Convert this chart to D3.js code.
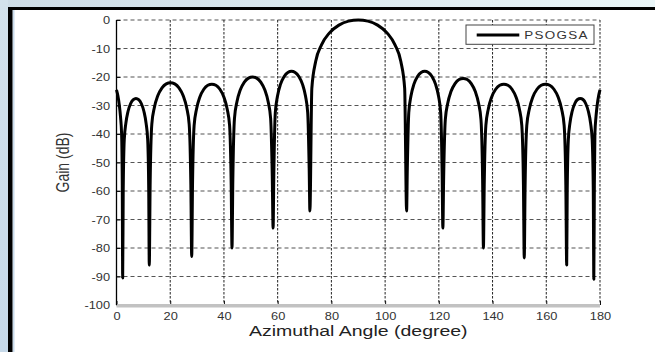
<!DOCTYPE html>
<html>
<head>
<meta charset="utf-8">
<script src="https://cdn.jsdelivr.net/npm/d3@7"></script>
<style>
html, body { margin: 0; padding: 0; background: #fff; }
svg { display: block; font-family: Arial, "Liberation Sans", sans-serif; }
</style>
</head>
<body>
<svg id="chart" width="655" height="352"></svg>
<script>
// Axis ticks
const xTicks = [0, 20, 40, 60, 80, 100, 120, 140, 160, 180];
const yTicks = [0, -10, -20, -30, -40, -50, -60, -70, -80, -90, -100];
const xTitle = "Azimuthal Angle (degree)";
const yTitle = "Gain (dB)";
const seriesName = "PSOGSA";

// Beam pattern (degree, dB)
const angles = [
    0, 0.5, 1.0, 1.5, 1.9, 2.15, 2.3,
    2.5, 2.89, 3.49, 4.28, 5.27, 6.26, 7.25, 8.24, 9.23, 10.22, 11.01, 11.61, 12.0, 12.2,
    12.52, 13.15, 14.1, 15.36, 16.94, 18.52, 20.1, 21.68, 23.26, 24.84, 26.1, 27.05, 27.68, 28.0,
    28.3, 28.9, 29.8, 31.0, 32.5, 34.0, 35.5, 37.0, 38.5, 40.0, 41.2, 42.1, 42.7, 43.0,
    43.31, 43.92, 44.84, 46.06, 47.59, 49.12, 50.65, 52.18, 53.71, 55.24, 56.46, 57.38, 57.99, 58.3,
    58.57, 59.12, 59.94, 61.04, 62.41, 63.78, 65.15, 66.52, 67.89, 69.26, 70.36, 71.18, 71.73, 72.0,
    72.72, 74.16, 76.32, 79.2, 82.8, 86.4, 90.0, 93.6, 97.2, 100.8, 103.68, 105.84, 107.28, 108.0,
    108.27, 108.81, 109.62, 110.7, 112.05, 113.4, 114.75, 116.1, 117.45, 118.8, 119.88, 120.69, 121.23, 121.5,
    121.8, 122.41, 123.31, 124.52, 126.03, 127.54, 129.05, 130.56, 132.07, 133.58, 134.79, 135.69, 136.3, 136.6,
    136.9, 137.51, 138.42, 139.64, 141.16, 142.68, 144.2, 145.72, 147.24, 148.76, 149.98, 150.89, 151.5, 151.8,
    152.12, 152.75, 153.7, 154.96, 156.54, 158.12, 159.7, 161.28, 162.86, 164.44, 165.7, 166.65, 167.28, 167.6,
    167.8, 168.21, 168.81, 169.62, 170.63, 171.64, 172.65, 173.66, 174.67, 175.68, 176.49, 177.09, 177.5, 177.7,
    177.9, 178.1, 178.5, 179.0, 179.5, 180
];
const gains = [
    -24.5, -26.5, -29.5, -34, -40, -58, -90.5,
    -60, -42, -36.2, -32.1, -29.3, -27.9, -27.5, -27.9, -29.3, -32.1, -36.2, -42, -60, -86,
    -58, -36.5, -30.7, -26.6, -23.8, -22.4, -22, -22.4, -23.8, -26.6, -30.7, -36.5, -58, -83,
    -58, -37, -31.2, -27.1, -24.3, -22.9, -22.5, -22.9, -24.3, -27.1, -31.2, -37, -58, -80,
    -56, -34.5, -28.7, -24.6, -21.8, -20.4, -20, -20.4, -21.8, -24.6, -28.7, -34.5, -55, -73,
    -54, -32.5, -26.7, -22.6, -19.8, -18.4, -18, -18.4, -19.8, -22.6, -26.7, -32.5, -52, -67,
    -24, -14.5, -8.7, -4.6, -1.8, -0.4, 0, -0.4, -1.8, -4.6, -8.7, -14.5, -24, -67,
    -52, -32.5, -26.7, -22.6, -19.8, -18.4, -18, -18.4, -19.8, -22.6, -26.7, -32.5, -54, -73,
    -55, -35, -29.2, -25.1, -22.3, -20.9, -20.5, -20.9, -22.3, -25.1, -29.2, -35, -56, -80,
    -58, -37, -31.2, -27.1, -24.3, -22.9, -22.5, -22.9, -24.3, -27.1, -31.2, -37, -58, -83.5,
    -58, -37, -31.2, -27.1, -24.3, -22.9, -22.5, -22.9, -24.3, -27.1, -31.2, -37, -58, -86,
    -60, -42, -36.2, -32.1, -29.3, -27.9, -27.5, -27.9, -29.3, -32.1, -36.2, -42, -60, -91,
    -58, -40, -34, -29.5, -26.5, -24.5
];

// Layout
const PLOT = { left: 116.5, right: 600, top: 20, bottom: 305 };
const SX = 1.28; // the figure is stretched sideways

const svg = d3.select("#chart");

// Page background: blue slide edge and black frame
const defs = svg.append("defs");
const gTop = defs.append("linearGradient").attr("id", "topGrad");
gTop.append("stop").attr("offset", "0%").attr("stop-color", "#cddce6");
gTop.append("stop").attr("offset", "100%").attr("stop-color", "#eaf6f8");
const gLeft = defs.append("linearGradient").attr("id", "leftGrad")
    .attr("x1", 0).attr("y1", 0).attr("x2", 0).attr("y2", 1);
gLeft.append("stop").attr("offset", "0%").attr("stop-color", "#d3e2ec");
gLeft.append("stop").attr("offset", "100%").attr("stop-color", "#c6d9e9");

svg.append("rect").attr("x", 0).attr("y", 0).attr("width", 655).attr("height", 7).attr("fill", "url(#topGrad)");
svg.append("rect").attr("x", 0).attr("y", 0).attr("width", 8).attr("height", 352).attr("fill", "url(#leftGrad)");
svg.append("rect").attr("x", 12.5).attr("y", 10).attr("width", 2).attr("height", 342).attr("fill", "#cadcec");
svg.append("rect").attr("x", 8).attr("y", 7).attr("width", 647).attr("height", 3).attr("fill", "#000");
svg.append("rect").attr("x", 8).attr("y", 7).attr("width", 4.5).attr("height", 345).attr("fill", "#000");

// Scales
const x = d3.scaleLinear().domain([0, 180]).range([PLOT.left, PLOT.right]);
const y = d3.scaleLinear().domain([-100, 0]).range([PLOT.bottom, PLOT.top]);

// Grid
svg.append("g").selectAll("line")
    .data(yTicks.filter(d => d > -100))
    .join("line")
    .attr("x1", PLOT.left).attr("x2", PLOT.right)
    .attr("y1", d => y(d)).attr("y2", d => y(d))
    .attr("stroke", "#555").attr("stroke-width", 1.2)
    .attr("stroke-dasharray", "4,3");

svg.append("g").selectAll("line")
    .data(xTicks.filter(d => d > 0))
    .join("line")
    .attr("x1", d => x(d)).attr("x2", d => x(d))
    .attr("y1", PLOT.top).attr("y2", PLOT.bottom)
    .attr("stroke", "#222").attr("stroke-width", 1)
    .attr("stroke-dasharray", "2.5,1.5");

// Axes (plain hyphen for the minus sign, like the original)
const xAxis = svg.append("g")
    .attr("transform", `translate(0,${PLOT.bottom})`)
    .call(d3.axisBottom(x).tickValues(xTicks).tickSize(-4).tickSizeOuter(0).tickFormat(d => String(d)));
xAxis.select(".domain").remove();
xAxis.selectAll("line").attr("stroke", "#111");
xAxis.selectAll("text")
    .attr("y", 0).attr("dy", null)
    .attr("transform", `translate(0,14.5) scale(${SX},1)`)
    .attr("font-size", 10).attr("fill", "#333");

const yAxis = svg.append("g")
    .attr("transform", `translate(${PLOT.left},0)`)
    .call(d3.axisLeft(y).tickValues(yTicks).tickSize(-4).tickSizeOuter(0).tickFormat(d => String(d)));
yAxis.select(".domain").remove();
yAxis.selectAll("line").attr("stroke", "#111");
yAxis.selectAll("text")
    .attr("x", 0).attr("y", 0).attr("dy", null)
    .attr("transform", `translate(-6.5,3.6) scale(${SX},1)`)
    .attr("font-size", 10).attr("fill", "#333");

// axis lines (bottom one has a grey shadow)
svg.append("line")
    .attr("x1", PLOT.left).attr("x2", PLOT.right)
    .attr("y1", PLOT.bottom + 0.8).attr("y2", PLOT.bottom + 0.8)
    .attr("stroke", "#c2c2c2").attr("stroke-width", 3.5);
svg.append("line")
    .attr("x1", PLOT.left).attr("x2", PLOT.left)
    .attr("y1", PLOT.top).attr("y2", PLOT.bottom)
    .attr("stroke", "#000").attr("stroke-width", 1.3);

// Pattern curve
const line = d3.line()
    .x((d, i) => x(angles[i]))
    .y(d => y(d))
    .curve(d3.curveMonotoneX);

svg.append("path")
    .datum(gains)
    .attr("fill", "none")
    .attr("stroke", "#000")
    .attr("stroke-width", 3)
    .attr("stroke-linejoin", "round")
    .attr("d", line);

// Titles
svg.append("text")
    .attr("transform", `translate(${(PLOT.left + PLOT.right) / 2},336) scale(1.3,1)`)
    .attr("text-anchor", "middle")
    .attr("font-size", 15)
    .attr("fill", "#222")
    .text(xTitle);

svg.append("text")
    .attr("transform", `translate(69,${(PLOT.top + PLOT.bottom) / 2}) rotate(-90) scale(1,${SX})`)
    .attr("text-anchor", "middle")
    .attr("font-size", 14)
    .attr("fill", "#333")
    .text(yTitle);

// Legend
const legend = svg.append("g").attr("transform", "translate(466,25)");
legend.append("rect")
    .attr("width", 128).attr("height", 19.3)
    .attr("fill", "#fff").attr("stroke", "#444").attr("stroke-width", 1);
legend.append("line")
    .attr("x1", 10.7).attr("x2", 53.3).attr("y1", 10).attr("y2", 10)
    .attr("stroke", "#000").attr("stroke-width", 3);
legend.append("text")
    .attr("transform", `translate(58.3,14.3) scale(${SX},1)`)
    .attr("font-size", 10.5)
    .attr("letter-spacing", 1)
    .attr("fill", "#333")
    .text(seriesName);
</script>
</body>
</html>
